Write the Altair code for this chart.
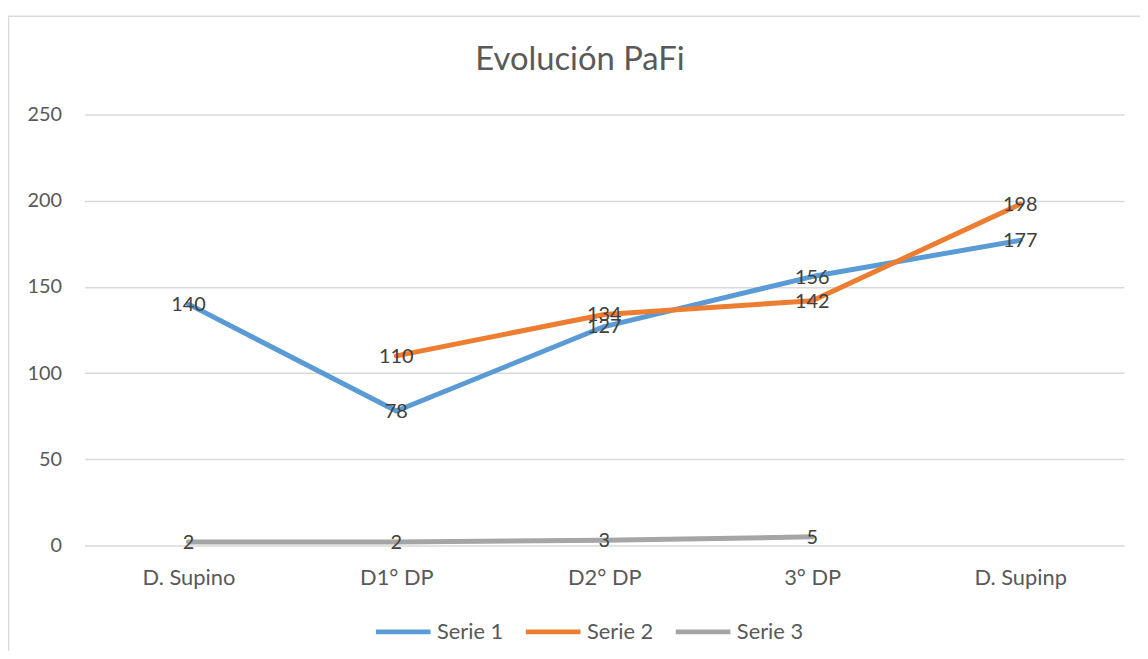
import altair as alt
import pandas as pd

categories = ["D. Supino", "D1° DP", "D2° DP", "3° DP", "D. Supinp"]
serie1 = [140, 78, 127, 156, 177]
serie2 = [None, 110, 134, 142, 198]
serie3 = [2, 2, 3, 5, None]
series_names = ["Serie 1", "Serie 2", "Serie 3"]
colors = ["#5B9BD5", "#ED7D31", "#A5A5A5"]
y_ticks = [0, 50, 100, 150, 200, 250]
title_text = "Evolución PaFi"

rows = []
for name, vals in zip(series_names, [serie1, serie2, serie3]):
    for c, v in zip(categories, vals):
        if v is not None:
            rows.append({"cat": c, "serie": name, "value": v})
df = pd.DataFrame(rows)

W, H = 1047, 434
FONT = "Lato"
TXT = "#595959"

x = alt.X("cat:N", sort=categories,
          scale=alt.Scale(type="point", padding=0.5),
          axis=alt.Axis(title=None, labelAngle=0, labelFontSize=22, labelColor=TXT,
                        labelFont=FONT, ticks=False, domain=False, grid=False,
                        labelPadding=22))
y = alt.Y("value:Q", scale=alt.Scale(domain=[0, 250], nice=False, zero=True),
          axis=alt.Axis(title=None, values=y_ticks, grid=True, gridColor="#D9D9D9",
                        gridWidth=1.5, domain=False, ticks=False, labelFontSize=20,
                        labelColor=TXT, labelFont=FONT, labelPadding=23))
color = alt.Color("serie:N",
                  scale=alt.Scale(domain=series_names, range=colors),
                  legend=alt.Legend(title=None, orient="none", legendX=291, legendY=491,
                                    direction="horizontal", symbolType="stroke",
                                    symbolSize=3025, symbolStrokeWidth=5,
                                    labelFontSize=22, labelFont=FONT, labelColor=TXT,
                                    labelOffset=4, columnPadding=12, padding=0))

border = alt.Chart(pd.DataFrame({"a": [0]})).mark_rect(
    fill="transparent", stroke="#D9D9D9", strokeWidth=1.5
).encode(x=alt.value(-76.5), x2=alt.value(1300), y=alt.value(-99), y2=alt.value(800))

lines = alt.Chart(df).mark_line(strokeWidth=5, strokeCap="round", strokeJoin="round").encode(
    x=x, y=y, color=color)

labels = alt.Chart(df).mark_text(fontSize=20, font=FONT, color="#404040",
                                 baseline="middle", align="center", dy=1).encode(
    x=x, y=y, text="value:Q")

chart = alt.layer(border, lines, labels).properties(
    width=W, height=H,
    title=alt.Title(title_text, fontSize=33, font=FONT, color=TXT, fontWeight="normal",
                    anchor="middle", frame="group", offset=0, baseline="alphabetic",
                    dx=-24.5, dy=88),
    padding={"left": 77, "top": 105, "right": 16, "bottom": 104},
    autosize=alt.AutoSizeParams(type="none"),
    background="white",
).configure_view(strokeWidth=0)

chart.save("out.html", embed_options={"renderer": "svg", "actions": False})
